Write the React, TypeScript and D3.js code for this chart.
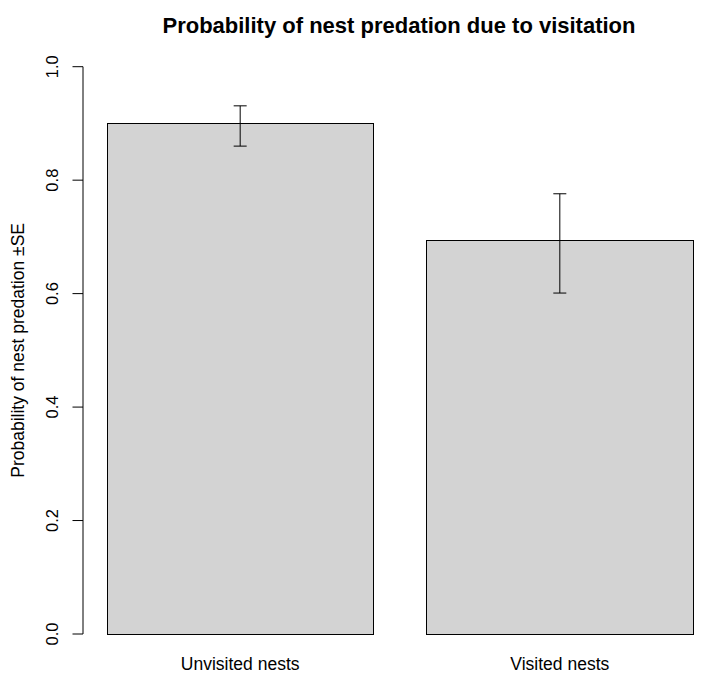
import React from "react";
import * as d3 from "d3";

const categories = ["Unvisited nests", "Visited nests"];
const values = [0.899, 0.694];
const upper = [0.931, 0.776];
const lower = [0.86, 0.601];
const yTicks = [0, 0.2, 0.4, 0.6, 0.8, 1.0];
const title = "Probability of nest predation due to visitation";
const yLabel = "Probability of nest predation \u00B1SE";

const W = 704;
const H = 675;
const FONT = "'Liberation Sans', Arial, Helvetica, sans-serif";

export default function App() {
  const y = d3.scaleLinear().domain([0, 1]).range([634, 66.7]);
  const x = d3
    .scaleBand<string>()
    .domain(categories)
    .range([107, 693])
    .paddingInner(0.2 / 1.2)
    .paddingOuter(0);
  const axisX = 83;
  const capHalf = 6.5;

  return (
    <svg
      width={W}
      height={H}
      style={{ position: "absolute", left: 0, top: 0, background: "#fff" }}
      fontFamily={FONT}
    >
      <rect x={0} y={0} width={W} height={H} fill="#fff" />
      <text
        x={399}
        y={32.5}
        textAnchor="middle"
        fontWeight="bold"
        fontSize={22}
        fill="#000"
      >
        {title}
      </text>
      {categories.map((c, i) => (
        <rect
          key={c}
          x={x(c)!}
          y={y(values[i])}
          width={x.bandwidth()}
          height={y(0) - y(values[i])}
          fill="#d3d3d3"
          stroke="#000"
          strokeWidth={1}
          shapeRendering="crispEdges"
        />
      ))}
      {categories.map((c, i) => {
        const cx = x(c)! + x.bandwidth() / 2;
        return (
          <g key={"e" + c} stroke="#000" strokeWidth={1}>
            <line x1={cx} x2={cx} y1={y(upper[i])} y2={y(lower[i])} />
            <line x1={cx - capHalf} x2={cx + capHalf} y1={y(upper[i])} y2={y(upper[i])} />
            <line x1={cx - capHalf} x2={cx + capHalf} y1={y(lower[i])} y2={y(lower[i])} />
          </g>
        );
      })}
      {categories.map((c) => (
        <text
          key={"l" + c}
          x={x(c)! + x.bandwidth() / 2}
          y={670}
          textAnchor="middle"
          fontSize={17.5}
          fill="#000"
        >
          {c}
        </text>
      ))}
      <g stroke="#000" strokeWidth={1}>
        <line x1={axisX} x2={axisX} y1={y(1)} y2={y(0)} />
        {yTicks.map((t) => (
          <line key={t} x1={axisX - 10.5} x2={axisX} y1={y(t)} y2={y(t)} />
        ))}
      </g>
      {yTicks.map((t) => (
        <text
          key={"t" + t}
          transform={`translate(58,${y(t)}) rotate(-90)`}
          textAnchor="middle"
          fontSize={16.5}
          fill="#000"
        >
          {d3.format(".1f")(t)}
        </text>
      ))}
      <text
        transform={`translate(24,${(y(0) + y(1)) / 2}) rotate(-90)`}
        textAnchor="middle"
        fontSize={17.5}
        fill="#000"
      >
        {yLabel}
      </text>
    </svg>
  );
}
